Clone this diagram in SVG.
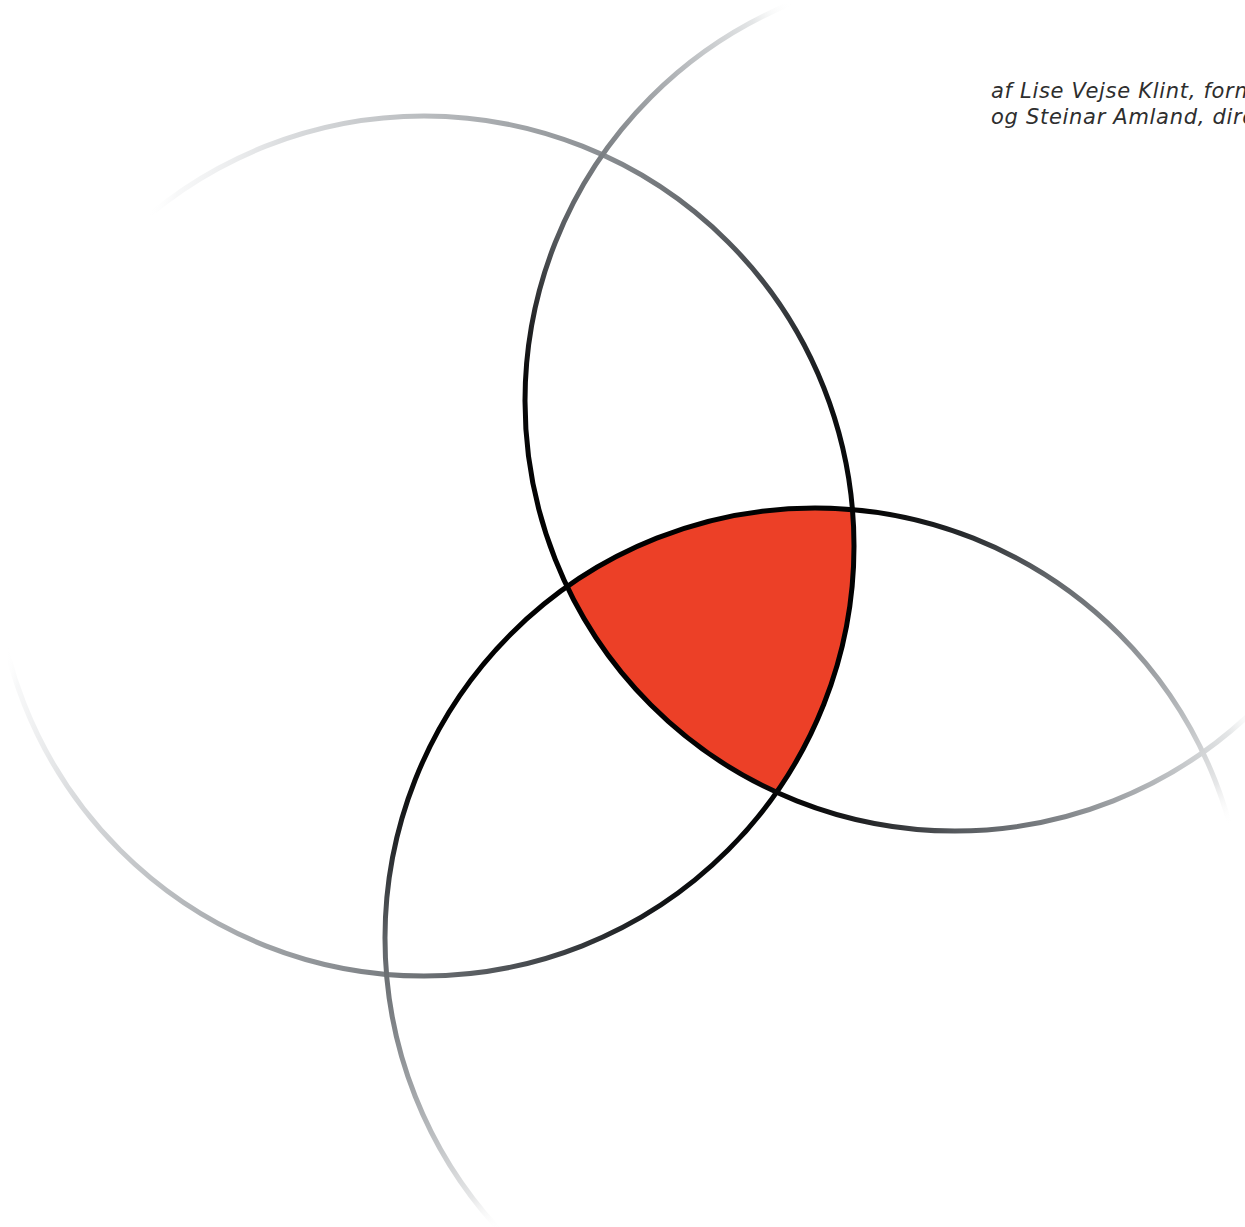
<svg xmlns="http://www.w3.org/2000/svg" width="1245" height="1227" viewBox="0 0 1245 1227">
  <style>
    .ring { fill: none; stroke-width: 5; }
    .credit { font-family: "DejaVu Sans", "Liberation Sans", sans-serif; font-style: italic; font-size: 21px; letter-spacing: 0.7px; fill: #2e2e2e; }
  </style>
  <defs>
    <linearGradient id="g1" gradientUnits="userSpaceOnUse" x1="833" y1="679" x2="15" y2="413">
      <stop offset="0" stop-color="#000000"/>
      <stop offset="0.1" stop-color="#0e1012"/>
      <stop offset="0.2" stop-color="#3c4044"/>
      <stop offset="0.34" stop-color="#6b6f73"/>
      <stop offset="0.45" stop-color="#8c9094"/>
      <stop offset="0.64" stop-color="#b6b9bc"/>
      <stop offset="0.8" stop-color="#dadcde"/>
      <stop offset="0.9" stop-color="#f2f3f4" stop-opacity="0.6"/>
      <stop offset="0.925" stop-color="#ffffff" stop-opacity="0"/>
    </linearGradient>
    <linearGradient id="g2" gradientUnits="userSpaceOnUse" x1="598.5" y1="639.5" x2="1311.5" y2="162.5">
      <stop offset="0" stop-color="#000000"/>
      <stop offset="0.1" stop-color="#0a0a0b"/>
      <stop offset="0.22" stop-color="#55595d"/>
      <stop offset="0.32" stop-color="#7c8084"/>
      <stop offset="0.45" stop-color="#b6b9bc"/>
      <stop offset="0.55" stop-color="#e4e6e7"/>
      <stop offset="0.575" stop-color="#f4f5f5" stop-opacity="0.5"/>
      <stop offset="0.6" stop-color="#ffffff" stop-opacity="0"/>
    </linearGradient>
    <linearGradient id="g3" gradientUnits="userSpaceOnUse" x1="606" y1="562" x2="1024" y2="1314">
      <stop offset="0" stop-color="#000000"/>
      <stop offset="0.1" stop-color="#050505"/>
      <stop offset="0.17" stop-color="#26292c"/>
      <stop offset="0.26" stop-color="#5f6367"/>
      <stop offset="0.36" stop-color="#83878b"/>
      <stop offset="0.47" stop-color="#b4b7ba"/>
      <stop offset="0.57" stop-color="#e6e7e8"/>
      <stop offset="0.6" stop-color="#f6f6f6" stop-opacity="0.4"/>
      <stop offset="0.62" stop-color="#ffffff" stop-opacity="0"/>
    </linearGradient>
    <clipPath id="k2"><circle cx="955" cy="401" r="430"/></clipPath>
    <clipPath id="k3"><circle cx="815" cy="938" r="430"/></clipPath>
  </defs>

  <rect width="1245" height="1227" fill="#ffffff"/>

  <g id="overlap">
    <g clip-path="url(#k2)">
      <circle cx="424" cy="546" r="430" fill="#ec4027" clip-path="url(#k3)"/>
    </g>
  </g>

  <g id="circle-left">
    <circle class="ring" cx="424" cy="546" r="430" stroke="url(#g1)"/>
  </g>
  <g id="circle-top">
    <circle class="ring" cx="955" cy="401" r="430" stroke="url(#g2)"/>
  </g>
  <g id="circle-bottom">
    <circle class="ring" cx="815" cy="938" r="430" stroke="url(#g3)"/>
  </g>

  <g id="credit">
    <text class="credit" x="991" y="98">af Lise Vejse Klint, form</text>
    <text class="credit" x="991" y="124">og Steinar Amland, dire</text>
  </g>
</svg>
